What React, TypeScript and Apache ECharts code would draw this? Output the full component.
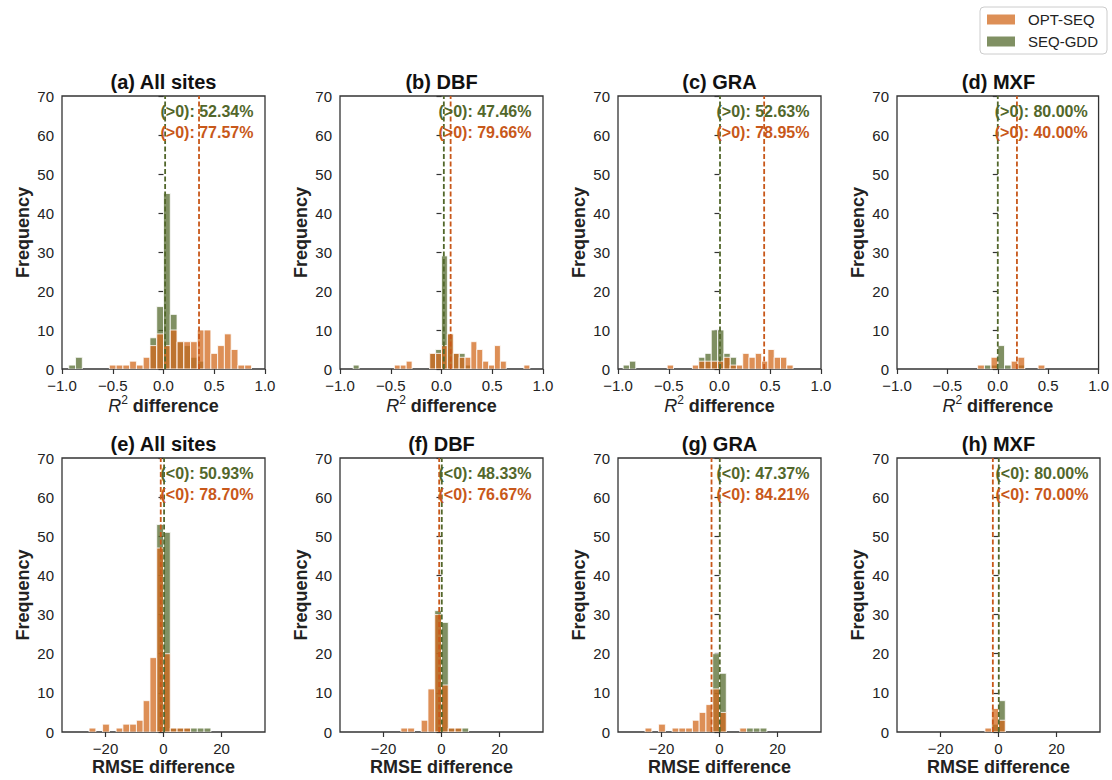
import React, { useEffect, useRef } from "react";
import * as echarts from "echarts";

// ---------- data ----------
const panelTitles = ["(a) All sites", "(b) DBF", "(c) GRA", "(d) MXF", "(e) All sites", "(f) DBF", "(g) GRA", "(h) MXF"];
const seriesNames = ["OPT-SEQ", "SEQ-GDD"];

// histogram bin width per panel
const binWidth = [1 / 15, 0.058, 0.062, 1 / 15, 7 / 3, 7 / 3, 7 / 3, 7 / 3];

// OPT-SEQ: left edge of first bin and counts
const optStart = [-8 / 15, -0.464, -0.515, -0.2, -77 / 3, -14, -77 / 3, -14 / 3];
const optCounts = [
  [1, 1, 1, 2, 1, 3, 6, 9, 6, 10, 7, 7, 7, 10, 10, 4, 6, 9, 5, 1, 1],
  [1, 1, 2, 0, 0, 0, 4, 4, 6, 9, 4, 3, 3, 7, 5, 2, 1, 6, 2, 0, 0, 0, 1],
  [1, 0, 0, 0, 1, 2, 2, 2, 2, 3, 1, 1, 4, 3, 4, 2, 5, 3, 3, 1],
  [1, 0, 3, 0, 0, 2, 3, 0, 0, 1],
  [1, 0, 2, 0, 1, 2, 2, 3, 8, 19, 47, 20, 1, 1, 1],
  [1, 1, 0, 3, 11, 30, 12, 1, 1],
  [1, 0, 2, 0, 1, 1, 1, 3, 5, 7, 11, 5, 0, 0, 1],
  [1, 6, 3],
];

// SEQ-GDD
const gddStart = [-14 / 15, -0.87, -0.949, -0.2, -7 / 3, -7 / 3, -7 / 3, -7 / 3];
const gddCounts = [
  [1, 3, 0, 0, 0, 0, 0, 0, 0, 0, 0, 0, 8, 16, 45, 14, 7, 6, 3, 2],
  [1, 0, 0, 0, 0, 0, 0, 0, 0, 0, 0, 0, 0, 4, 5, 29, 9, 4, 4, 1],
  [1, 2, 0, 0, 0, 0, 0, 0, 0, 0, 0, 0, 3, 4, 10, 10, 4, 3],
  [0, 1, 1, 6, 1, 0, 1],
  [53, 51, 1, 1, 1, 1, 1, 1],
  [31, 28, 1, 1, 1],
  [20, 15, 0, 0, 0, 1, 1, 1],
  [2, 8],
];

// dashed reference lines (x position)
const optLine = [0.35, 0.09, 0.44, 0.19, -0.95, -0.8, -2.75, -1.95];
const gddLine = [0.016, 0.023, 0.005, 0.0, 0.2, 0.1, 0.1, 0.1];

// annotation texts
const signLabel = ["(>0): ", "(<0): "];
const gddPct = ["52.34%", "47.46%", "52.63%", "80.00%", "50.93%", "48.33%", "47.37%", "80.00%"];
const optPct = ["77.57%", "79.66%", "78.95%", "40.00%", "78.70%", "76.67%", "84.21%", "70.00%"];
const annotX = 0;
const gddAnnotY = 66.1;
const optAnnotY = 60.6;

// axes
const topXRange = [-1, 1];
const topXInterval = 0.5;
const bottomXRange = [-35, 35];
const bottomXTicks = [-20, 0, 20];
const yRange = [0, 70];
const yInterval = 10;

// ---------- styling ----------
const FONT = '"Liberation Sans", Arial, Helvetica, sans-serif';
const ORANGE_BAR = "rgba(210,105,30,0.75)";
const GREEN_BAR = "rgba(85,107,47,0.75)";
const ORANGE_LINE = "#c8581a";
const GREEN_LINE = "#52672b";
const INK = "#222";
const SPINE = "#333";

const gridLefts = [62, 340, 618, 897];
const gridWidth = 203;
const rowTops = [96, 458];
const rowHeights = [273, 274];

function fmtTop(v: number) {
  const s = Math.abs(v).toFixed(1);
  return (v < 0 ? "\u2212" : "") + s;
}
function fmtBottom(v: number) {
  return (v < 0 ? "\u2212" : "") + Math.abs(Math.round(v));
}

function histSeries(i: number, name: string, start: number, width: number, counts: number[], color: string, z: number) {
  const data = counts
    .map((c, k) => [start + k * width, start + (k + 1) * width, c])
    .filter((d) => d[2] > 0);
  return {
    type: "custom",
    name,
    xAxisIndex: i,
    yAxisIndex: i,
    z,
    data,
    encode: { x: [0, 1], y: 2 },
    itemStyle: { color },
    clip: true,
    renderItem: (_params: any, api: any) => {
      const a = api.coord([api.value(0), api.value(2)]);
      const b = api.coord([api.value(1), 0]);
      return {
        type: "rect",
        shape: { x: a[0], y: a[1], width: b[0] - a[0], height: b[1] - a[1] },
        style: { fill: color, stroke: "#fff", lineWidth: 0.8 },
      };
    },
  };
}

function lineSeries(i: number, x: number, color: string) {
  return {
    type: "line",
    name: "ref" + i + color,
    xAxisIndex: i,
    yAxisIndex: i,
    z: 5,
    symbol: "none",
    silent: true,
    data: [
      [x, yRange[0]],
      [x, yRange[1]],
    ],
    lineStyle: { color, width: 1.8, type: [5, 2.5] },
  };
}

function textSeries(i: number, y: number, text: string, color: string) {
  return {
    type: "custom",
    name: "txt" + i + color,
    xAxisIndex: i,
    yAxisIndex: i,
    z: 10,
    silent: true,
    clip: false,
    data: [[annotX, y]],
    renderItem: (_params: any, api: any) => {
      const p = api.coord([api.value(0), api.value(1)]);
      return {
        type: "text",
        x: p[0] - 3,
        y: p[1],
        style: {
          text,
          fill: color,
          font: "bold 16px " + FONT,
          align: "left",
          verticalAlign: "middle",
        },
      };
    },
  };
}

function buildOption() {
  const grids: any[] = [];
  const xAxes: any[] = [];
  const yAxes: any[] = [];
  const titles: any[] = [];
  const series: any[] = [];

  for (let i = 0; i < 8; i++) {
    const row = i < 4 ? 0 : 1;
    const col = i % 4;
    const left = gridLefts[col];
    const top = rowTops[row];
    const height = rowHeights[row];
    grids.push({
      left,
      top,
      width: gridWidth,
      height,
      show: true,
      borderColor: SPINE,
      borderWidth: 1.3,
      backgroundColor: "transparent",
      containLabel: false,
    });
    titles.push({
      text: panelTitles[i],
      left: left + gridWidth / 2,
      top: top - 24,
      textAlign: "center",
      padding: 0,
      textStyle: { fontSize: 20, fontWeight: "bold", color: "#111", fontFamily: FONT },
    });

    const axisCommon = {
      gridIndex: i,
      axisLine: { show: false },
      axisTick: { show: true, inside: false, length: 5, lineStyle: { color: SPINE, width: 1.2 } },
      splitLine: { show: false },
    };

    if (row === 0) {
      xAxes.push({
        ...axisCommon,
        type: "value",
        min: topXRange[0],
        max: topXRange[1],
        interval: topXInterval,
        axisLabel: { fontSize: 15, color: INK, fontFamily: FONT, margin: 9, formatter: fmtTop },
        name: "{it|R}{sup|2}{b| difference}",
        nameLocation: "middle",
        nameGap: 23,
        nameTextStyle: {
          color: INK,
          fontFamily: FONT,
          rich: {
            it: { fontStyle: "italic", fontSize: 18, fontFamily: FONT, color: INK, lineHeight: 24 },
            sup: { fontSize: 12, fontFamily: FONT, color: INK, lineHeight: 12, verticalAlign: "top" },
            b: { fontWeight: "bold", fontSize: 18, fontFamily: FONT, color: INK, lineHeight: 24 },
          },
        },
      });
    } else {
      xAxes.push({
        ...axisCommon,
        type: "value",
        min: bottomXRange[0],
        max: bottomXRange[1],
        axisTick: { ...axisCommon.axisTick, customValues: bottomXTicks },
        axisLabel: { fontSize: 15, color: INK, fontFamily: FONT, margin: 9, customValues: bottomXTicks, formatter: fmtBottom },
        name: "RMSE difference",
        nameLocation: "middle",
        nameGap: 26,
        nameTextStyle: { fontSize: 18, fontWeight: "bold", color: INK, fontFamily: FONT },
      });
    }
    yAxes.push({
      ...axisCommon,
      type: "value",
      min: yRange[0],
      max: yRange[1],
      interval: yInterval,
      axisLabel: { fontSize: 15, color: INK, fontFamily: FONT, margin: 8 },
      name: "Frequency",
      nameLocation: "middle",
      nameGap: 30,
      nameRotate: 90,
      nameTextStyle: { fontSize: 18, fontWeight: "bold", color: INK, fontFamily: FONT },
    });

    series.push(histSeries(i, seriesNames[1], gddStart[i], binWidth[i], gddCounts[i], GREEN_BAR, 2));
    series.push(histSeries(i, seriesNames[0], optStart[i], binWidth[i], optCounts[i], ORANGE_BAR, 3));
    series.push(lineSeries(i, gddLine[i], GREEN_LINE));
    series.push(lineSeries(i, optLine[i], ORANGE_LINE));
    series.push(textSeries(i, gddAnnotY, signLabel[row] + gddPct[i], GREEN_LINE));
    series.push(textSeries(i, optAnnotY, signLabel[row] + optPct[i], ORANGE_LINE));
  }

  return {
    animation: false,
    backgroundColor: "#fff",
    textStyle: { fontFamily: FONT },
    title: titles,
    legend: {
      data: seriesNames,
      orient: "vertical",
      left: 980,
      top: 7,
      icon: "rect",
      itemWidth: 28,
      itemHeight: 10,
      itemGap: 7,
      padding: [5, 9, 5, 7],
      borderColor: "#ccc",
      borderWidth: 1,
      borderRadius: 4,
      selectedMode: false,
      textStyle: { fontSize: 15, color: INK, fontFamily: FONT, padding: [0, 0, 0, 8] },
    },
    grid: grids,
    xAxis: xAxes,
    yAxis: yAxes,
    series,
  };
}

export default function App() {
  const ref = useRef<HTMLDivElement | null>(null);
  useEffect(() => {
    if (!ref.current) return;
    const chart = echarts.init(ref.current, undefined, { renderer: "svg" });
    chart.setOption(buildOption() as any);
    return () => chart.dispose();
  }, []);
  return (
    <div
      ref={ref}
      style={{ position: "fixed", left: 0, top: 0, width: 1112, height: 780, background: "#fff" }}
    />
  );
}
